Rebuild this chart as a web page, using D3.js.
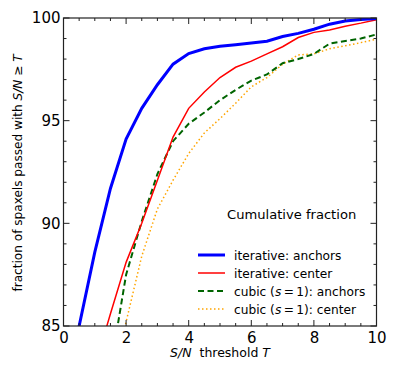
<!DOCTYPE html>
<html><head><meta charset="utf-8">
<script src="https://cdn.jsdelivr.net/npm/d3@7"></script>
<style>body{margin:0;background:#fff}svg{display:block;font-family:"DejaVu Sans",sans-serif}</style>
</head><body>
<svg id="c" width="399" height="375"></svg>
<script>
const thresholds = [0,0.5,1,1.5,2,2.5,3,3.5,4,4.5,5,5.5,6,6.5,7,7.5,8,8.5,9,9.5,10];
const iterAnchors = [81.0,85.0,88.6,91.7,94.1,95.6,96.75,97.75,98.27,98.5,98.62,98.7,98.78,98.87,99.1,99.25,99.45,99.7,99.85,99.93,99.98];
const iterCenter  = [78.0,80.5,83.0,85.6,88.1,90.0,92.1,94.2,95.6,96.4,97.1,97.6,97.9,98.25,98.6,99.05,99.3,99.42,99.6,99.75,99.92];
const cubicAnchors= [72.0,75.0,78.0,82.9,87.5,90.1,92.4,94.0,94.85,95.4,96.0,96.5,96.95,97.25,97.8,98.0,98.25,98.75,98.88,99.0,99.2];
const cubicCenter = [70.0,74.0,78.0,81.9,85.2,88.4,90.7,92.1,93.4,94.4,95.1,95.85,96.65,97.1,97.75,98.2,98.25,98.5,98.65,98.8,98.97];
const seriesNames = ["iterative: anchors","iterative: center","cubic (s\u2009=\u20091): anchors","cubic (s\u2009=\u20091): center"];
const xTicks = [0,2,4,6,8,10];
const yTicks = [85,90,95,100];

const svg = d3.select("#c");
const L=63.5, R=376.5, T=18, B=326;
const x = d3.scaleLinear().domain([0,10]).range([L,R]);
const y = d3.scaleLinear().domain([85,100]).range([B,T]);

svg.append("clipPath").attr("id","clip").append("rect")
  .attr("x",L).attr("y",T).attr("width",R-L).attr("height",B-T);

const styles = [
  {data:iterAnchors, color:"#0000ff", w:3, dash:null},
  {data:iterCenter, color:"#ff0000", w:1.5, dash:null},
  {data:cubicAnchors, color:"#006400", w:2, dash:"6,3.5"},
  {data:cubicCenter, color:"#ffa500", w:1.5, dash:"1.5,2.5"}
];
const line = d3.line().x((d,i)=>x(thresholds[i])).y(d=>y(d));
const g = svg.append("g").attr("clip-path","url(#clip)");
styles.slice().reverse().forEach(s=>{
  g.append("path").attr("d",line(s.data)).attr("fill","none")
    .attr("stroke",s.color).attr("stroke-width",s.w)
    .attr("stroke-dasharray",s.dash);
});

// inward ticks on all four sides
const xMinor = d3.range(0,10.01,0.5);
const yMinor = d3.range(85,100.01,1);
const axG = svg.append("g").attr("stroke","#222").attr("stroke-width",1);
xMinor.forEach(v=>{
  const len = xTicks.includes(v)?6:3;
  axG.append("line").attr("x1",x(v)).attr("x2",x(v)).attr("y1",B).attr("y2",B-len);
  axG.append("line").attr("x1",x(v)).attr("x2",x(v)).attr("y1",T).attr("y2",T+len);
});
yMinor.forEach(v=>{
  const len = yTicks.includes(v)?6:3;
  axG.append("line").attr("y1",y(v)).attr("y2",y(v)).attr("x1",L).attr("x2",L+len);
  axG.append("line").attr("y1",y(v)).attr("y2",y(v)).attr("x1",R).attr("x2",R-len);
});
svg.append("rect").attr("x",L).attr("y",T).attr("width",R-L).attr("height",B-T)
  .attr("fill","none").attr("stroke","#222").attr("stroke-width",1.2);

// tick labels via d3 axes
const xAxis = d3.axisBottom(x).tickValues(xTicks).tickSize(0).tickPadding(6).tickFormat(d3.format("d"));
const xa = svg.append("g").attr("transform",`translate(0,${B})`).call(xAxis);
xa.select(".domain").remove();
xa.selectAll("text").attr("font-size",15).attr("font-family","DejaVu Sans").attr("fill","#000");
const yAxis = d3.axisLeft(y).tickValues(yTicks).tickSize(0).tickPadding(3).tickFormat(d3.format("d"));
const ya = svg.append("g").attr("transform",`translate(${L},0)`).call(yAxis);
ya.select(".domain").remove();
ya.selectAll("text").attr("font-size",15).attr("font-family","DejaVu Sans").attr("fill","#000");

// axis labels
const xl = svg.append("text").attr("x",220).attr("y",357).attr("text-anchor","middle")
  .attr("font-size",12.5).attr("fill","#000");
xl.append("tspan").attr("font-style","italic").text("S/N");
xl.append("tspan").text("\u00a0 threshold ");
xl.append("tspan").attr("font-style","italic").text("T");

const yl = svg.append("text").attr("transform",`translate(22,173) rotate(-90)`)
  .attr("text-anchor","middle").attr("font-size",12.1).attr("fill","#000");
yl.append("tspan").text("fraction of spaxels passed with ");
yl.append("tspan").attr("font-style","italic").text("S/N");
yl.append("tspan").text(" \u2265 ");
yl.append("tspan").attr("font-style","italic").text("T");

// legend
svg.append("text").attr("x",227).attr("y",219).attr("font-size",13.1).attr("fill","#000").text("Cumulative fraction");
const legY = [255,273,291,309];
styles.forEach((s,i)=>{
  svg.append("line").attr("x1",198).attr("x2",225).attr("y1",legY[i]).attr("y2",legY[i])
    .attr("stroke",s.color).attr("stroke-width",s.w).attr("stroke-dasharray",s.dash);
  const t = svg.append("text").attr("x",234).attr("y",legY[i]+4.5).attr("font-size",12.2).attr("fill","#000");
  if(i<2){ t.text(seriesNames[i]); }
  else {
    t.append("tspan").text("cubic (");
    t.append("tspan").attr("font-style","italic").text("s");
    t.append("tspan").text("\u2009=\u20091): " + (i===2?"anchors":"center"));
  }
});
</script>
</body></html>
